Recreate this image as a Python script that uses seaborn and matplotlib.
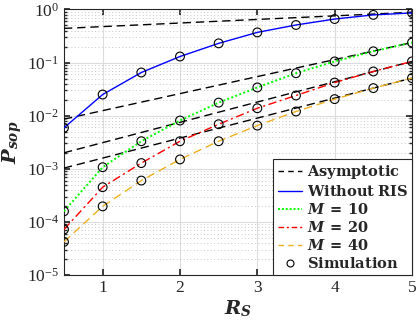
import numpy as np
import matplotlib
matplotlib.use("Agg")
import matplotlib.pyplot as plt
from matplotlib.lines import Line2D
from matplotlib.ticker import LogLocator, NullFormatter, FixedLocator
import seaborn as sns

# ---------------- data ----------------
R = [0.5, 1.0, 1.5, 2.0, 2.5, 3.0, 3.5, 4.0, 4.5, 5.0]
without_ris = [5.9e-3, 0.025, 0.065, 0.13, 0.23, 0.37, 0.51, 0.66, 0.79, 0.86]
m10 = [1.58e-4, 1.07e-3, 3.3e-3, 8.1e-3, 0.0176, 0.034, 0.063, 0.105, 0.163, 0.238]
m20 = [7.2e-5, 4.5e-4, 1.28e-3, 3.3e-3, 6.9e-3, 0.0138, 0.024, 0.042, 0.068, 0.105]
m40 = [4.2e-5, 1.96e-4, 6.0e-4, 1.5e-3, 3.3e-3, 6.5e-3, 0.012, 0.0205, 0.033, 0.051]

asym_R = [0.5, 5.0]
asym_noris = [0.44, 0.885]
asym_m10 = [8.6e-3, 0.238]
asym_m20 = [2.0e-3, 0.105]
asym_m40 = [1.03e-3, 0.051]

x_ticks = [1, 2, 3, 4, 5]
legend_labels = [r"$\mathbf{Asymptotic}$", r"$\mathbf{Without\ RIS}$",
                 r"$\mathbfit{M}\ \mathbf{=\ 10}$", r"$\mathbfit{M}\ \mathbf{=\ 20}$",
                 r"$\mathbfit{M}\ \mathbf{=\ 40}$", r"$\mathbf{Simulation}$"]

# ---------------- style ----------------
sns.set_theme(style="ticks")
plt.rcParams["font.family"] = ["Liberation Serif", "DejaVu Serif"]
plt.rcParams["mathtext.fontset"] = "custom"
plt.rcParams["mathtext.rm"] = "Liberation Serif"
plt.rcParams["mathtext.it"] = "Liberation Serif:italic"
plt.rcParams["mathtext.bf"] = "DejaVu Serif:bold"
plt.rcParams["mathtext.bfit"] = "DejaVu Serif:bold:italic"

fig = plt.figure(figsize=(4.16, 3.26), dpi=100)
ax = fig.add_axes([0.1538, 0.1565, 0.8366, 0.8145])

c_blue = (0.0, 0.0, 1.0)
c_green = (0.0, 1.0, 0.0)
c_red = (1.0, 0.0, 0.0)
c_orange = (0.929, 0.694, 0.125)

lw = 1.0
for ys in [asym_noris, asym_m10, asym_m20, asym_m40]:
    sns.lineplot(x=asym_R, y=ys, ax=ax, color="black", linewidth=lw,
                 linestyle=(0, (6, 3.5)), zorder=3)

sns.lineplot(x=R, y=without_ris, ax=ax, color=c_blue, linewidth=lw, linestyle="-", zorder=4)
sns.lineplot(x=R, y=m10, ax=ax, color=c_green, linewidth=1.4, linestyle=(0, (1, 1.2)), zorder=4)
sns.lineplot(x=R, y=m20, ax=ax, color=c_red, linewidth=lw, linestyle=(0, (6, 2.5, 1.5, 2.5)), zorder=4)
sns.lineplot(x=R, y=m40, ax=ax, color=c_orange, linewidth=lw, linestyle=(0, (6, 3.5)), zorder=4)

for ys in [without_ris, m10, m20, m40]:
    sns.scatterplot(x=R, y=ys, ax=ax, marker="o", s=40, facecolor="none",
                    edgecolor="black", linewidth=0.8, zorder=5)

ax.set_yscale("log")
ax.set_xlim(0.5, 5)
ax.set_ylim(1e-5, 1)
ax.xaxis.set_major_locator(FixedLocator(x_ticks))
ax.set_xticklabels([str(t) for t in x_ticks])
ax.yaxis.set_major_locator(LogLocator(base=10, numticks=10))
ax.yaxis.set_minor_locator(LogLocator(base=10, subs=np.arange(2, 10), numticks=20))
ax.yaxis.set_minor_formatter(NullFormatter())

ax.grid(True, which="major", color="#dcdcdc", linewidth=0.8, linestyle="-")
ax.grid(True, which="minor", axis="y", color="#c8c8c8", linewidth=0.7, linestyle=(0, (1, 2.5)))
ax.set_axisbelow(True)

for s in ax.spines.values():
    s.set_visible(True)
    s.set_color("#262626")
    s.set_linewidth(0.8)
ax.tick_params(which="both", direction="in", top=True, right=True, colors="#262626",
               labelsize=12.5)
ax.tick_params(which="major", length=4)
ax.tick_params(which="minor", length=2)
for lab in ax.get_xticklabels() + ax.get_yticklabels():
    lab.set_color("#262626")

ax.set_xlabel(r"$\mathbfit{R}_{\mathbfit{S}}$", fontsize=14, labelpad=2)
ax.set_ylabel(r"$\mathbfit{P}_{\mathbfit{sop}}$", fontsize=14, labelpad=2)

handles = [
    Line2D([], [], color="black", lw=lw, linestyle=(0, (4, 3))),
    Line2D([], [], color=c_blue, lw=lw, linestyle="-"),
    Line2D([], [], color=c_green, lw=1.4, linestyle=(0, (1, 1))),
    Line2D([], [], color=c_red, lw=lw, linestyle=(0, (4, 2, 1.5, 2))),
    Line2D([], [], color=c_orange, lw=lw, linestyle=(0, (4, 3))),
    Line2D([], [], color="black", lw=0, marker="o", markersize=5,
           markerfacecolor="none", markeredgewidth=0.8),
]
leg = ax.legend(handles, legend_labels, loc="lower right", borderaxespad=0,
                fontsize=10.5, frameon=True, fancybox=False, handlelength=1.7,
                handletextpad=0.3, labelspacing=0.2, borderpad=0.3)
leg.get_frame().set_edgecolor("#262626")
leg.get_frame().set_linewidth(0.8)
leg.get_frame().set_alpha(1)
leg.set_zorder(10)

fig.savefig("out.png", dpi=100)
